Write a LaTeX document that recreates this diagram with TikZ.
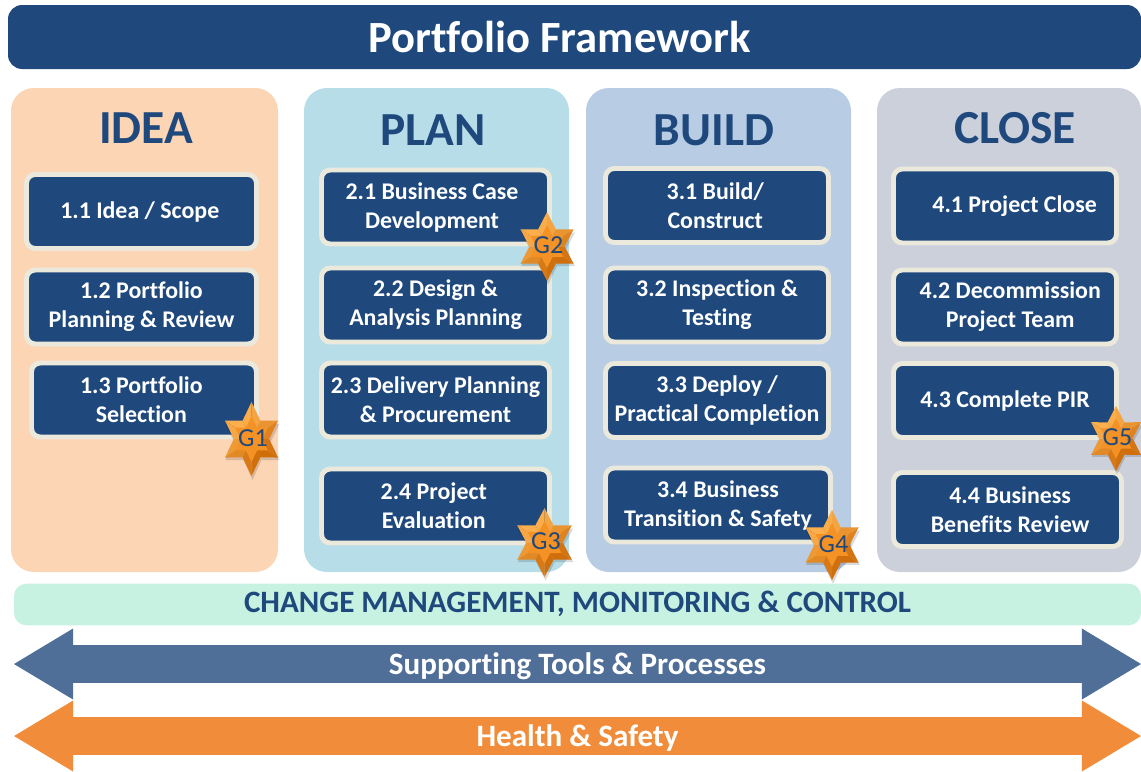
\documentclass[tikz,border=0pt]{standalone}
\usepackage{fontspec}
\setmainfont{Carlito}[Ligatures=NoCommon]
\usetikzlibrary{shapes.arrows}
\definecolor{navy}{HTML}{1F497D}
\definecolor{edge}{HTML}{EBE9DC}
\definecolor{ideafill}{HTML}{FCD5B5}
\definecolor{planfill}{HTML}{B7DEE8}
\definecolor{buildfill}{HTML}{B8CCE4}
\definecolor{closefill}{HTML}{CCD0DB}
\definecolor{mint}{HTML}{C7F2E1}
\definecolor{steel}{HTML}{4F6E98}
\definecolor{amber}{HTML}{F18D3A}
\definecolor{starhi}{HTML}{FFB350}
\definecolor{starlo}{HTML}{CC6A06}
\definecolor{starmid}{HTML}{F49226}

\begin{document}
\begin{tikzpicture}[x=0.02cm,y=-0.02cm]
    \tikzstyle{panel}=[rounded corners=13pt,minimum height=484*0.02cm,inner sep=0pt]
    \tikzstyle{heading}=[text=navy,font=\fontsize{27}{30}\selectfont\bfseries]
    \tikzstyle{task}=[draw=edge,line width=2.8pt,fill=navy,text=white,rounded corners=5pt,align=center,
      minimum height=74*0.02cm,inner sep=0pt,font=\fontsize{13.6}{16.5}\selectfont\bfseries]
    \tikzstyle{band}=[double arrow,double arrow head extend=8.2pt,double arrow tip angle=62,
      double arrow head indent=0pt,minimum width=71*0.02cm,minimum height=1127*0.02cm,inner sep=0pt,
      text height=15pt,text depth=3.3pt,text=white,font=\fontsize{17.7}{19}\selectfont\bfseries]
    \useasboundingbox (0,0) rectangle (1141,771);
    \node[fill=navy,rounded corners=8pt,minimum width=1133*0.02cm,minimum height=64*0.02cm,text=white,
      font=\fontsize{25.4}{28}\selectfont\bfseries] (title) at (574.5,37) {\hspace*{-17pt}Portfolio Framework};
    \node[panel,fill=ideafill,minimum width=267*0.02cm] (P_1) at (144.5,330) {};
    \node[panel,fill=planfill,minimum width=265*0.02cm] (P_2) at (436.5,330) {};
    \node[panel,fill=buildfill,minimum width=265*0.02cm] (P_3) at (718.5,330) {};
    \node[panel,fill=closefill,minimum width=264*0.02cm] (P_4) at (1009,330) {};
    \node[heading] (H_1) at (146,128) {IDEA};
    \node[heading] (H_2) at (433,130) {PLAN};
    \node[heading] (H_3) at (714,130) {BUILD};
    \node[heading] (H_4) at (1015,128) {CLOSE};
    \node[task,minimum width=230*0.02cm] (T_11) at (141.5,211.5) {\hspace*{-2pt}1.1 Idea / Scope};
    \node[task,minimum width=230*0.02cm] (T_12) at (141.5,307) {1.2 Portfolio\\Planning \& Review};
    \node[task,minimum width=225*0.02cm] (T_13) at (144,400) {\hspace*{-3pt}1.3 Portfolio\\\hspace*{-3pt}Selection};
    \node[task,minimum width=228*0.02cm] (T_21) at (435.5,207) {\hspace*{-4pt}2.1 Business Case\\\hspace*{-4pt}Development};
    \node[task,minimum width=228*0.02cm] (T_22) at (435.5,305) {2.2 Design \&\\Analysis Planning};
    \node[task,minimum width=228*0.02cm] (T_23) at (435.5,400) {2.3 Delivery Planning\\\& Procurement};
    \node[task,minimum width=228*0.02cm] (T_24) at (435.5,506) {\hspace*{-2pt}2.4 Project\\\hspace*{-2pt}Evaluation};
    \node[task,minimum width=223*0.02cm] (T_31) at (717,205.5) {\hspace*{-2pt}3.1 Build/\\\hspace*{-2pt}Construct};
    \node[task,minimum width=223*0.02cm] (T_32) at (717,305) {3.2 Inspection \&\\Testing};
    \node[task,minimum width=223*0.02cm] (T_33) at (717,400.5) {3.3 Deploy /\\Practical Completion};
    \node[task,minimum width=225*0.02cm] (T_34) at (718,505) {3.4 Business\\Transition \& Safety};
    \node[task,minimum width=223*0.02cm] (T_41) at (1005,206) {\hspace*{11pt}4.1 Project Close};
    \node[task,minimum width=223*0.02cm] (T_42) at (1005,307) {\hspace*{6pt}4.2 Decommission\\\hspace*{6pt}Project Team};
    \node[task,minimum width=223*0.02cm] (T_43) at (1005,400.5) {4.3 Complete PIR};
    \node[task,minimum width=228*0.02cm] (T_44) at (1007.5,509.5) {\hspace*{3pt}4.4 Business\\\hspace*{3pt}Benefits Review};
    \foreach \gname/\gx/\gy/\gs/\gt in {1/251.5/439/1/1,2/547/246.5/1/.93,3/544.5/542.5/1.03/.93,4/832/545/1/.95,5/1116/438.5/.94/.88} {
      \begin{scope}[shift={(\gx,\gy)},xscale=\gs,yscale=\gt]
        \fill[black,opacity=.14] (1,-33) -- (10,-15) -- (28,-15) -- (19,3) -- (28,21) -- (10,21)
          -- (1,41) -- (-8,21) -- (-26,21) -- (-17,3) -- (-26,-15) -- (-8,-15) -- cycle;
        \foreach \a in {90,150,...,420} {
          \pgfmathsetmacro\rx{cos(\a)*30.6}
          \pgfmathsetmacro\ry{-sin(\a)*37}
          \pgfmathsetmacro\lx{cos(\a-30)*17.7}
          \pgfmathsetmacro\ly{-sin(\a-30)*21.3}
          \pgfmathsetmacro\ux{cos(\a+30)*17.7}
          \pgfmathsetmacro\uy{-sin(\a+30)*21.3}
          \pgfmathsetmacro\mixl{50+45*cos(\a-15-125)}
          \pgfmathsetmacro\mixu{50+45*cos(\a+15-125)}
          \fill[starhi!\mixl!starlo] (0,0) -- (\rx,\ry) -- (\lx,\ly) -- cycle;
          \fill[starhi!\mixu!starlo] (0,0) -- (\rx,\ry) -- (\ux,\uy) -- cycle;
        }
        \fill[starmid,scale=.62] (0,-37) -- (8.85,-18.5) -- (26.5,-18.5) -- (17.7,0) -- (26.5,18.5) -- (8.85,18.5)
          -- (0,37) -- (-8.85,18.5) -- (-26.5,18.5) -- (-17.7,0) -- (-26.5,-18.5) -- (-8.85,-18.5) -- cycle;
      \end{scope}
      \node[text=navy,font=\fontsize{14.8}{15}\selectfont,inner sep=0pt] (G_\gname) at (\gx+1.5,\gy-1) {G\gname};
    }
    \node[fill=mint,rounded corners=7pt,minimum width=1127*0.02cm,minimum height=39*0.02cm,text=navy,
      text height=13.3pt,text depth=3.7pt,font=\fontsize{17.7}{19}\selectfont\bfseries] (change) at (577.5,604.5) {CHANGE MANAGEMENT, MONITORING \& CONTROL};
    \node[band,fill=steel] (tools) at (577.5,664) {Supporting Tools \& Processes};
    \node[band,fill=amber] (safety) at (577.5,736) {Health \& Safety};
  \end{tikzpicture}
\end{document}
